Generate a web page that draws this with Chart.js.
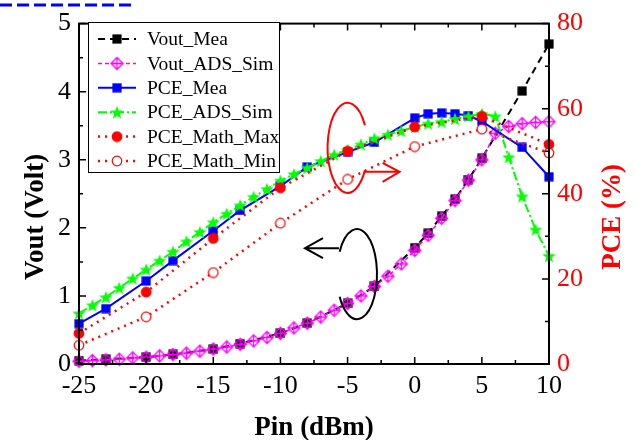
<!DOCTYPE html>
<html>
<head>
<meta charset="utf-8">
<script src="https://cdn.jsdelivr.net/npm/chart.js@4.4.1/dist/chart.umd.min.js"></script>
<style>
  html, body { margin: 0; padding: 0; background: #fff; }
  #wrap { width: 634px; height: 440px; position: relative; }
</style>
</head>
<body>
<div id="wrap"><canvas id="c"></canvas></div>
<script>
'use strict';

// values
const pinMea  = [-25, -23, -20, -18, -15, -13, -10, -8, -5, -3, 0, 1, 2, 3, 4, 5, 8, 10];
const voutMea = [0.05, 0.07, 0.10, 0.14, 0.22, 0.30, 0.45, 0.60, 0.89, 1.14, 1.71, 1.92, 2.17, 2.42, 2.71, 3.02, 4.01, 4.70];
const pceMea  = [9.5, 13.0, 19.5, 24.3, 31.3, 36.1, 41.8, 46.3, 49.8, 52.1, 57.8, 58.8, 59.0, 58.8, 58.4, 57.0, 50.9, 44.0];

const pinSim  = [-25, -24, -23, -22, -21, -20, -19, -18, -17, -16, -15, -14, -13, -12, -11, -10, -9, -8,
                 -7, -6, -5, -4, -3, -2, -1, 0, 1, 2, 3, 4, 5, 6, 7, 8, 9, 10];
const voutSim = [0.04, 0.05, 0.06, 0.07, 0.09, 0.10, 0.12, 0.14, 0.16, 0.19, 0.22, 0.25, 0.29, 0.34, 0.39, 0.45, 0.53, 0.60,
                 0.69, 0.79, 0.89, 1.00, 1.14, 1.29, 1.47, 1.67, 1.89, 2.14, 2.40, 2.70, 3.00, 3.39, 3.49, 3.53, 3.55, 3.56];
const pceSim  = [11.9, 13.8, 15.7, 17.9, 20.1, 22.2, 24.3, 26.4, 28.8, 31.0, 33.3, 35.3, 37.3, 39.3, 41.1, 43.1, 44.6, 46.1,
                 47.7, 49.2, 50.3, 51.6, 53.0, 53.9, 54.8, 55.7, 56.5, 56.9, 57.6, 58.2, 58.8, 58.2, 48.6, 39.4, 31.6, 25.4];

const pinMath = [-25, -20, -15, -10, -5, 0, 5, 10];
const pceMax  = [7.2, 16.9, 29.5, 41.4, 50.0, 55.7, 58.2, 51.6];
const pceMin  = [4.4, 11.1, 21.5, 33.1, 43.4, 51.1, 55.2, 49.6];

const xTicks    = [-25, -20, -15, -10, -5, 0, 5, 10];
const voutTicks = [0, 1, 2, 3, 4, 5];
const pceTicks  = [0, 20, 40, 60, 80];

const SERIF = "'Times New Roman', 'Liberation Serif', serif";

// marker images (used for the points and for the legend)
function marker(size, draw) {
  const c = document.createElement('canvas');
  c.width = size; c.height = size;
  draw(c.getContext('2d'), size / 2);
  return c;
}
const mkSquare = col => marker(10, (g, h) => { g.fillStyle = col; g.fillRect(h - 4.6, h - 4.6, 9.2, 9.2); });
const mkDiamond = col => marker(15, (g, h) => {
  g.strokeStyle = col; g.lineWidth = 1.3;
  g.beginPath();
  g.moveTo(h, h - 6); g.lineTo(h + 6, h); g.lineTo(h, h + 6); g.lineTo(h - 6, h); g.closePath();
  g.moveTo(h - 6, h); g.lineTo(h + 6, h);
  g.moveTo(h, h - 6); g.lineTo(h, h + 6);
  g.stroke();
});
const mkStar = col => marker(16, (g, h) => {
  g.fillStyle = col; g.beginPath();
  for (let i = 0; i < 10; i++) {
    const r = i % 2 ? 2.9 : 7, a = -Math.PI / 2 + i * Math.PI / 5;
    g.lineTo(h + r * Math.cos(a), h + 0.7 + r * Math.sin(a));
  }
  g.closePath(); g.fill();
});
const mkDot = (col, fill) => marker(12, (g, h) => {
  g.beginPath(); g.arc(h, h, 4.8, 0, Math.PI * 2);
  g.fillStyle = fill; g.fill();
  g.strokeStyle = col; g.lineWidth = 1.2; g.stroke();
});

const pts = (xs, ys) => xs.map((x, i) => ({ x, y: ys[i] }));

const datasets = [
  { label: 'Vout_Mea', data: pts(pinMea, voutMea), yAxisID: 'y',
    borderColor: '#000000', borderWidth: 2, borderDash: [7, 5], pointStyle: mkSquare('#000000') },
  { label: 'Vout_ADS_Sim', data: pts(pinSim, voutSim), yAxisID: 'y',
    borderColor: '#ff00ff', borderWidth: 1.5, borderDash: [4, 3], pointStyle: mkDiamond('#ff00ff') },
  { label: 'PCE_Mea', data: pts(pinMea, pceMea), yAxisID: 'y2',
    borderColor: '#0000ff', borderWidth: 2, borderDash: [], pointStyle: mkSquare('#0000ff') },
  { label: 'PCE_ADS_Sim', data: pts(pinSim, pceSim), yAxisID: 'y2',
    borderColor: '#00ff00', borderWidth: 2, borderDash: [9, 3, 2, 3], pointStyle: mkStar('#00ff00') },
  { label: 'PCE_Math_Max', data: pts(pinMath, pceMax), yAxisID: 'y2',
    borderColor: '#ff0000', borderWidth: 2.5, borderDash: [2, 5], pointStyle: mkDot('#ff0000', '#ff0000') },
  { label: 'PCE_Math_Min', data: pts(pinMath, pceMin), yAxisID: 'y2',
    borderColor: '#ff0000', borderWidth: 2.5, borderDash: [2, 5], pointStyle: mkDot('#ff0000', '#ffffff') },
].map((d, i) => Object.assign(d, {
  order: 10 - i, showLine: true, fill: false, tension: 0, clip: false,
  pointRadius: 5, pointHoverRadius: 5
}));

const useTicks = list => scale => { scale.ticks = list.map(value => ({ value })); };

// frame with inward ticks, rotated titles, legend inside, loop annotations
const decor = {
  id: 'decor',
  afterDraw(chart) {
    const { ctx, chartArea: a } = chart;
    const { x, y, y2 } = chart.scales;
    const mids = arr => arr.slice(1).map((v, i) => (v + arr[i]) / 2);
    ctx.save();

    ctx.strokeStyle = '#000'; ctx.setLineDash([]);
    ctx.lineWidth = 1.5;
    ctx.beginPath();
    const tx = (vals, len) => vals.forEach(v => {
      const p = x.getPixelForValue(v);
      ctx.moveTo(p, a.bottom); ctx.lineTo(p, a.bottom - len);
      ctx.moveTo(p, a.top); ctx.lineTo(p, a.top + len);
    });
    const tl = (vals, len) => vals.forEach(v => {
      const p = y.getPixelForValue(v); ctx.moveTo(a.left, p); ctx.lineTo(a.left + len, p);
    });
    const tr = (vals, len) => vals.forEach(v => {
      const p = y2.getPixelForValue(v); ctx.moveTo(a.right, p); ctx.lineTo(a.right - len, p);
    });
    tx(xTicks, 7); tx(mids(xTicks), 4);
    tl(voutTicks, 7); tl(mids(voutTicks), 4);
    tr(pceTicks, 7); tr(mids(pceTicks), 4);
    ctx.stroke();
    ctx.lineWidth = 2;
    ctx.strokeRect(a.left, a.top, a.right - a.left, a.bottom - a.top);

    // y titles, read bottom to top
    ctx.font = `bold 27px ${SERIF}`;
    ctx.textAlign = 'center'; ctx.textBaseline = 'middle';
    const midY = (a.top + a.bottom) / 2 + 23;
    ctx.save(); ctx.translate(36, midY); ctx.rotate(-Math.PI / 2);
    ctx.fillStyle = '#000'; ctx.fillText('Vout (Volt)', 0, 0); ctx.restore();
    ctx.save(); ctx.translate(613, midY); ctx.rotate(-Math.PI / 2);
    ctx.fillStyle = '#ff0000'; ctx.fillText('PCE (%)', 0, 0); ctx.restore();

    // legend
    ctx.fillStyle = '#fff'; ctx.fillRect(88, 22, 192, 151);
    ctx.strokeStyle = '#000'; ctx.lineWidth = 1;
    ctx.strokeRect(88.5, 22.5, 191, 150);
    ctx.font = `19.5px ${SERIF}`; ctx.textAlign = 'left'; ctx.textBaseline = 'middle';
    chart.data.datasets.forEach((d, i) => {
      const ly = 39 + i * 24.4;
      ctx.strokeStyle = d.borderColor; ctx.lineWidth = d.borderWidth; ctx.setLineDash(d.borderDash);
      ctx.beginPath(); ctx.moveTo(98, ly); ctx.lineTo(136, ly); ctx.stroke();
      ctx.setLineDash([]);
      const m = d.pointStyle;
      ctx.drawImage(m, 117 - m.width / 2, ly - m.height / 2);
      ctx.fillStyle = '#000'; ctx.fillText(d.label, 147, ly + 1);
    });

    // red loop -> right axis
    ctx.lineWidth = 2; ctx.strokeStyle = '#ff0000';
    const rx = x.getPixelForValue(-5), ry = y2.getPixelForValue(50.8);
    ctx.beginPath(); ctx.ellipse(rx, ry, 20, 45, 0, -Math.PI / 6, Math.PI / 6, true); ctx.stroke();
    ctx.beginPath();
    ctx.moveTo(rx + 17, ry + 24); ctx.lineTo(rx + 52, ry + 24);
    ctx.moveTo(rx + 35, ry + 15); ctx.lineTo(rx + 52, ry + 24); ctx.lineTo(rx + 35, ry + 34);
    ctx.stroke();

    // black loop -> left axis
    ctx.strokeStyle = '#000';
    const bx = x.getPixelForValue(-4.3), by = y.getPixelForValue(1.32);
    ctx.beginPath(); ctx.ellipse(bx, by, 20, 45, 0, 7 * Math.PI / 6, 5 * Math.PI / 6, false); ctx.stroke();
    ctx.beginPath();
    ctx.moveTo(bx - 18, by - 26); ctx.lineTo(bx - 52, by - 26);
    ctx.moveTo(bx - 34, by - 36); ctx.lineTo(bx - 52, by - 26); ctx.lineTo(bx - 34, by - 16);
    ctx.stroke();

    // cropped dashed frame at the top-left corner
    ctx.strokeStyle = '#0000ff'; ctx.lineWidth = 3; ctx.setLineDash([12, 5]);
    ctx.beginPath(); ctx.moveTo(0, 5); ctx.lineTo(131, 5); ctx.lineTo(131, 0); ctx.stroke();
    ctx.restore();
  }
};

new Chart(document.getElementById('c'), {
  type: 'line',
  data: { datasets },
  options: {
    responsive: true, maintainAspectRatio: false, animation: false, events: [],
    layout: { padding: { top: 16, left: 0, right: 0, bottom: 0 } },
    plugins: { legend: { display: false }, tooltip: { enabled: false } },
    scales: {
      x: {
        type: 'linear', min: -25, max: 10,
        afterBuildTicks: useTicks(xTicks),
        afterFit: s => { s.height = 76; },
        grid: { display: false, drawTicks: false }, border: { display: false },
        ticks: { color: '#000', padding: 7, font: { family: SERIF, size: 26 } },
        title: { display: true, text: 'Pin (dBm)', color: '#000', padding: 0,
                 font: { family: SERIF, size: 27, weight: 'bold', lineHeight: 0.85 } }
      },
      y: {
        position: 'left', min: 0, max: 5,
        afterBuildTicks: useTicks(voutTicks),
        afterFit: s => { s.width = 79; },
        grid: { display: false, drawTicks: false }, border: { display: false },
        ticks: { color: '#000', padding: 8, font: { family: SERIF, size: 26 } }
      },
      y2: {
        position: 'right', min: 0, max: 80,
        afterBuildTicks: useTicks(pceTicks),
        afterFit: s => { s.width = 85; },
        grid: { display: false, drawTicks: false }, border: { display: false },
        ticks: { color: '#ff0000', padding: 8, font: { family: SERIF, size: 26 } }
      }
    }
  },
  plugins: [decor]
});
</script>
</body>
</html>
